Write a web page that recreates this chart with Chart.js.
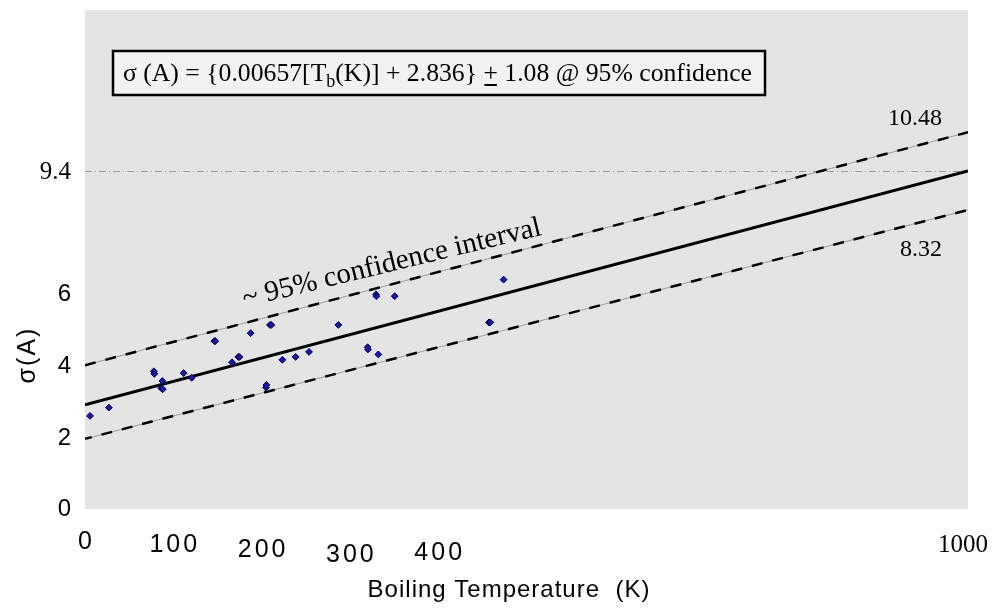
<!DOCTYPE html>
<html>
<head>
<meta charset="utf-8">
<script src="https://cdn.jsdelivr.net/npm/chart.js@4.4.1/dist/chart.umd.min.js"></script>
<style>
  html, body { margin: 0; padding: 0; background: #ffffff; }
  #wrap { width: 994px; height: 609px; position: relative; }
</style>
</head>
<body>
<div id="wrap"><canvas id="c" width="994" height="609"></canvas></div>
<script>
// ---- data ----
const boilingK = [5.7, 27, 78, 78.5, 87.6, 86.4, 88, 111.7, 120.8, 146.5, 147.5, 166.5, 173.6, 175, 187.6, 205, 205.5, 209.5, 211, 223.5, 238.5, 253.7, 286.9, 320.1, 320.5, 329.6, 330, 332.2, 350.7, 457.5, 459, 474.1];
const sigmaA   = [2.59, 2.82, 3.83, 3.76, 3.56, 3.36, 3.33, 3.78, 3.65, 4.67, 4.67, 4.08, 4.23, 4.23, 4.89, 3.38, 3.45, 5.12, 5.12, 4.15, 4.23, 4.37, 5.12, 4.50, 4.44, 5.97, 5.92, 4.30, 5.92, 5.19, 5.19, 6.38];
const lineX    = [0, 1000];
const fitY     = [2.9, 9.4];
const upperY   = [4.0, 10.48];
const lowerY   = [1.95, 8.32];
const xTicks   = [0, 100, 200, 300, 400, 1000];
const yTicks   = [0, 2, 4, 6, 9.4];
const refLineY = 9.4;
const upperLabel = "10.48";
const lowerLabel = "8.32";

// ---- styles ----
const SANS = '"Liberation Sans", Arial, sans-serif';
const SERIF = '"Liberation Serif", "Times New Roman", serif';
const xTickDrop = [33, 36, 41, 46, 44, 36];
const xTickShift = [0, 1.5, 1.5, 1.5, 1.5, -5];
const xTickSerif = [false, false, false, false, false, true];

const pts = (xs, ys) => xs.map((x, i) => ({ x: x, y: ys[i] }));

const decor = {
  id: 'decor',
  beforeDraw(chart) {
    const { ctx, chartArea: a } = chart;
    ctx.save();
    ctx.fillStyle = '#e4e4e4';
    ctx.fillRect(a.left, a.top, a.right - a.left, a.bottom - a.top);
    ctx.restore();
  },
  beforeDatasetsDraw(chart) {
    const { ctx, chartArea: a, scales: { y } } = chart;
    const py = Math.round(y.getPixelForValue(refLineY)) + 0.5;
    ctx.save();
    ctx.strokeStyle = '#9a9a9a';
    ctx.lineWidth = 1;
    ctx.setLineDash([7, 3, 1, 3]);
    ctx.beginPath();
    ctx.moveTo(a.left, py);
    ctx.lineTo(a.right, py);
    ctx.stroke();
    ctx.restore();
  },
  afterDatasetsDraw(chart) {
    const { ctx, chartArea: a, scales: { x, y } } = chart;
    ctx.save();

    // y tick labels
    ctx.fillStyle = '#000';
    ctx.textAlign = 'right';
    ctx.textBaseline = 'middle';
    yTicks.forEach(v => {
      const serif = !Number.isInteger(v);
      ctx.font = serif ? '25px ' + SERIF : '24px ' + SANS;
      ctx.fillText(String(v), 71, y.getPixelForValue(v) + (v === 0 ? 0 : 1));
    });

    // x tick labels
    ctx.textAlign = 'center';
    xTicks.forEach((v, i) => {
      if (xTickSerif[i]) {
        ctx.font = '25px ' + SERIF;
        ctx.letterSpacing = '0px';
      } else {
        ctx.font = '25px ' + SANS;
        ctx.letterSpacing = v === 0 ? '0px' : '3px';
      }
      ctx.fillText(String(v), x.getPixelForValue(v) + xTickShift[i], a.bottom + xTickDrop[i]);
    });
    ctx.letterSpacing = '1px';

    // axis titles
    ctx.font = '24px ' + SANS;
    ctx.textAlign = 'center';
    ctx.fillText('Boiling Temperature  (K)', 509, 590);

    ctx.save();
    ctx.translate(28, 355);
    ctx.rotate(-Math.PI / 2);
    ctx.font = '25px ' + SANS;
    ctx.letterSpacing = '2px';
    ctx.fillText('σ(A)', 0, 0);
    ctx.restore();
    ctx.letterSpacing = '0px';

    // end labels of the confidence lines
    ctx.font = '24px ' + SERIF;
    ctx.textAlign = 'left';
    ctx.textBaseline = 'alphabetic';
    ctx.fillText(upperLabel, 888, 125);
    ctx.fillText(lowerLabel, 900, 256);

    // rotated annotation along the upper band
    const ang = Math.atan2(y.getPixelForValue(upperY[1]) - y.getPixelForValue(upperY[0]),
                           x.getPixelForValue(lineX[1]) - x.getPixelForValue(lineX[0]));
    ctx.save();
    ctx.translate(x.getPixelForValue(181), y.getPixelForValue(5.62));
    ctx.rotate(ang + 0.02);
    ctx.font = '29px ' + SERIF;
    ctx.fillText('~ 95% confidence interval', 0, 0);
    ctx.restore();

    // equation box
    const bx = 113, by = 51, bw = 652, bh = 44;
    ctx.fillStyle = '#f2f2f2';
    ctx.fillRect(bx, by, bw, bh);
    ctx.strokeStyle = '#000';
    ctx.lineWidth = 2.5;
    ctx.strokeRect(bx, by, bw, bh);

    const parts = [
      { t: 'σ (A) = {0.00657[T', sub: false },
      { t: 'b', sub: true },
      { t: '(K)] + 2.836} ', sub: false },
      { t: '+', sub: false, under: true },
      { t: ' 1.08 @ 95% confidence', sub: false }
    ];
    const fs = 25.7, subFs = 18;
    let cx = 123;
    const base = 81;
    ctx.fillStyle = '#000';
    ctx.textAlign = 'left';
    parts.forEach(p => {
      ctx.font = (p.sub ? subFs : fs) + 'px ' + SERIF;
      const w = ctx.measureText(p.t).width;
      ctx.fillText(p.t, cx, p.sub ? base + 6 : base);
      if (p.under) {
        ctx.fillRect(cx + 1, base + 3, w - 2, 2);
      }
      cx += w;
    });

    ctx.restore();
  }
};

new Chart(document.getElementById('c'), {
  type: 'scatter',
  data: {
    datasets: [
      {
        label: 'data',
        data: pts(boilingK, sigmaA),
        pointStyle: 'rectRot',
        pointRadius: 3.4,
        backgroundColor: '#1414c8',
        borderColor: '#000030',
        borderWidth: 1,
        showLine: false
      },
      {
        label: 'fit',
        data: pts(lineX, fitY),
        showLine: true,
        borderColor: '#000',
        borderWidth: 3,
        pointRadius: 0
      },
      {
        label: 'upper',
        data: pts(lineX, upperY),
        showLine: true,
        borderColor: '#000',
        borderWidth: 2.5,
        borderDash: [11, 10],
        pointRadius: 0
      },
      {
        label: 'lower',
        data: pts(lineX, lowerY),
        showLine: true,
        borderColor: '#000',
        borderWidth: 2.5,
        borderDash: [11, 10],
        borderDashOffset: 4,
        pointRadius: 0
      },
      {
        label: 'upper thin',
        data: pts(lineX, upperY),
        showLine: true,
        borderColor: '#9c9c9c',
        borderWidth: 1,
        pointRadius: 0
      },
      {
        label: 'lower thin',
        data: pts(lineX, lowerY),
        showLine: true,
        borderColor: '#9c9c9c',
        borderWidth: 1,
        pointRadius: 0
      }
    ]
  },
  options: {
    responsive: false,
    animation: false,
    layout: { padding: { left: 85, right: 26, top: 10, bottom: 100 } },
    plugins: { legend: { display: false }, tooltip: { enabled: false } },
    scales: {
      x: { type: 'linear', min: 0, max: 1000, display: false },
      y: { type: 'linear', min: 0, max: 13.88, display: false }
    }
  },
  plugins: [decor]
});
</script>
</body>
</html>
